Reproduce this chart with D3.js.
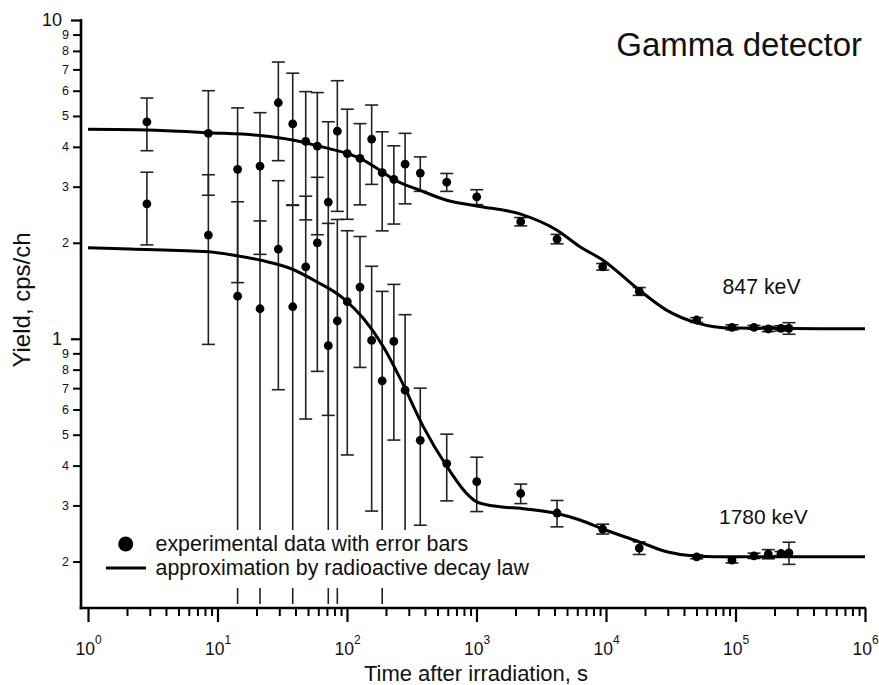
<!DOCTYPE html>
<html>
<head>
<meta charset="utf-8">
<script src="https://cdn.jsdelivr.net/npm/d3@7/dist/d3.min.js"></script>
<style>
  html, body { margin: 0; padding: 0; background: #fff; }
  svg { display: block; font-family: "Liberation Sans", Arial, sans-serif; }
</style>
</head>
<body>
<svg id="chart" width="879" height="685"></svg>
<script>
// ---------------- data ----------------
const times = [2.85, 8.5, 14.3, 21.3, 29.5, 38.1, 48, 59, 71.7, 84.2, 100.5, 126, 155, 187, 230, 281, 368,
  589, 1004, 2195, 4186, 9425, 18060, 50150, 93950, 139000, 179200, 224500, 258700];

const yield847 = [4.79, 4.41, 3.40, 3.48, 5.50, 4.72, 4.16, 4.02, 2.685, 4.48, 3.81, 3.68, 4.23, 3.32, 3.16, 3.53, 3.31,
  3.10, 2.785, 2.33, 2.055, 1.682, 1.408, 1.145, 1.086, 1.086, 1.073, 1.078, 1.078];
const err847 = [0.90, 1.59, 1.90, 1.64, 1.88, 2.09, 1.80, 1.90, 2.11, 1.97, 1.44, 1.05, 1.18, 1.14, 0.87, 0.88, 0.41,
  0.20, 0.15, 0.07, 0.07, 0.04, 0.04, 0.02, 0.02, 0.015, 0.02, 0.02, 0.045];

const yield1780 = [2.65, 2.115, 1.36, 1.242, 1.912, 1.26, 1.68, 2.00, 0.951, 1.137, 1.307, 1.453, 0.988, 0.738, 0.981, 0.690, 0.480,
  0.406, 0.356, 0.327, 0.284, 0.253, 0.2205, 0.207, 0.202, 0.2085, 0.211, 0.212, 0.213];
const err1780 = [0.68, 1.155, 1.33, 1.10, 1.22, 1.36, 1.12, 1.21, 1.35, 1.23, 0.875, 0.64, 0.70, 0.67, 0.50, 0.50, 0.22,
  0.096, 0.069, 0.023, 0.027, 0.009, 0.01, 0.003, 0.004, 0.004, 0.007, 0.003, 0.017];

// approximation curves
const fit847T = [1, 2.85, 8.5, 21.3, 38.1, 59, 100.5, 126, 187, 230, 368, 589, 1004, 2195, 4186, 6290, 9425, 18060, 29300, 50150, 93950, 1e6];
const fit847Y = [4.54, 4.52, 4.43, 4.34, 4.20, 4.03, 3.81, 3.68, 3.34, 3.16, 2.92, 2.72, 2.61, 2.46, 2.19, 1.944, 1.766, 1.421, 1.23, 1.122, 1.080, 1.075];

const fit1780T = [1, 2.11, 8.49, 14.1, 22.1, 36.3, 58.3, 93.6, 133.6, 190.7, 265.9, 388, 581, 840, 1004, 1519, 2195, 4186, 6295, 9425, 18060, 29420, 50150, 93950, 1e6];
const fit1780Y = [1.93, 1.912, 1.875, 1.822, 1.759, 1.664, 1.51, 1.339, 1.159, 0.944, 0.731, 0.530, 0.4016, 0.327, 0.308, 0.297, 0.2937, 0.283, 0.270, 0.253, 0.2307, 0.2147, 0.208, 0.207, 0.207];

const xMajorTicks = [1, 10, 100, 1000, 10000, 100000, 1000000];
const xExponents = ["0", "1", "2", "3", "4", "5", "6"];
const yMajorTicks = [1, 10];
const yMajorLabels = ["1", "10"];
const yMinorDigits = [2, 3, 4, 5, 6, 7, 8, 9];

const titleText = "Gamma detector";
const label847 = "847 keV";
const label1780 = "1780 keV";
const xTitle = "Time after irradiation, s";
const yTitle = "Yield, cps/ch";
const legendItems = ["experimental data with error bars", "approximation by radioactive decay law"];

// ---------------- layout ----------------
const svg = d3.select("#chart");
const plotLeft = 81, plotRight = 865, plotTop = 20, plotBottom = 608;
const x = d3.scaleLog().domain([1, 1e6]).range([88, 865]);
const y = d3.scaleLog().domain([0.143, 10]).range([plotBottom, plotTop]);

svg.append("defs").append("clipPath").attr("id", "plotclip")
  .append("rect").attr("x", plotLeft).attr("y", plotTop - 5)
  .attr("width", plotRight - plotLeft + 10).attr("height", plotBottom - plotTop + 3);

// ---------------- axes ----------------
const xMinor = [];
for (let k = 0; k < 6; k++) for (let m = 2; m <= 9; m++) xMinor.push(m * Math.pow(10, k));

const gx = svg.append("g").attr("transform", `translate(0,${plotBottom})`);
gx.call(d3.axisBottom(x).tickValues(xMinor).tickSize(8).tickFormat(""));
gx.call(g => g.select(".domain").remove());
gx.selectAll(".tick line").attr("stroke", "#000").attr("stroke-width", 2);
const gxM = svg.append("g").attr("transform", `translate(0,${plotBottom})`);
gxM.call(d3.axisBottom(x).tickValues(xMajorTicks).tickSize(14).tickFormat(""));
gxM.call(g => g.select(".domain").remove());
gxM.selectAll(".tick line").attr("stroke", "#000").attr("stroke-width", 2.2);
gxM.selectAll(".tick").each(function(d, i) {
  const t = d3.select(this).append("text")
    .attr("y", 47).attr("x", 0).attr("fill", "#111")
    .attr("text-anchor", "middle").style("font-size", "17.5px");
  t.append("tspan").text("10");
  t.append("tspan").attr("dy", -11).style("font-size", "12px").text(xExponents[i]);
});

const yMinor = [];
[0.1, 1].forEach(b => yMinorDigits.forEach(m => yMinor.push(m * b)));
const gy = svg.append("g").attr("transform", `translate(${plotLeft},0)`);
gy.call(d3.axisLeft(y).tickValues(yMinor).tickSize(8).tickPadding(4)
  .tickFormat((d) => String(Math.round(d >= 1 ? d : d * 10))));
gy.call(g => g.select(".domain").remove());
gy.selectAll(".tick line").attr("stroke", "#000").attr("stroke-width", 2);
gy.selectAll(".tick text").attr("fill", "#111").style("font-size", "12.5px").style("font-family", "Liberation Sans, Arial, sans-serif");
const gyM = svg.append("g").attr("transform", `translate(${plotLeft},0)`);
gyM.call(d3.axisLeft(y).tickValues(yMajorTicks).tickSize(10).tickPadding(9)
  .tickFormat((d, i) => yMajorLabels[i]));
gyM.call(g => g.select(".domain").remove());
gyM.selectAll(".tick line").attr("stroke", "#000").attr("stroke-width", 2.2);
gyM.selectAll(".tick text").attr("fill", "#111").style("font-size", "18px").style("font-family", "Liberation Sans, Arial, sans-serif");

// spines
svg.append("line").attr("x1", plotLeft).attr("x2", plotLeft).attr("y1", plotTop - 1).attr("y2", plotBottom + 1.3)
  .attr("stroke", "#000").attr("stroke-width", 2.6);
svg.append("line").attr("x1", plotLeft - 1.3).attr("x2", plotRight + 1).attr("y1", plotBottom).attr("y2", plotBottom)
  .attr("stroke", "#000").attr("stroke-width", 2.6);

// ---------------- data marks ----------------
const plot = svg.append("g").attr("clip-path", "url(#plotclip)");
const series = [
  { t: times, v: yield847, e: err847, ft: fit847T, fy: fit847Y },
  { t: times, v: yield1780, e: err1780, ft: fit1780T, fy: fit1780Y }
];
const capW = 6.5;
const yMin = y.domain()[0];

series.forEach(s => {
  const pts = s.t.map((t, i) => ({ t, v: s.v[i], lo: s.v[i] - s.e[i], hi: s.v[i] + s.e[i] }));
  const g = plot.append("g");
  pts.forEach(p => {
    const xp = x(p.t);
    const yHi = y(p.hi);
    const loClipped = p.lo <= yMin;
    const yLo = loClipped ? plotBottom + 5 : y(p.lo);
    g.append("line").attr("x1", xp).attr("x2", xp).attr("y1", yHi).attr("y2", loClipped ? plotBottom - 4 : yLo)
      .attr("stroke", "#222").attr("stroke-width", 1.6);
    g.append("line").attr("x1", xp - capW).attr("x2", xp + capW).attr("y1", yHi).attr("y2", yHi)
      .attr("stroke", "#222").attr("stroke-width", 1.6);
    if (!loClipped) {
      g.append("line").attr("x1", xp - capW).attr("x2", xp + capW).attr("y1", yLo).attr("y2", yLo)
        .attr("stroke", "#222").attr("stroke-width", 1.6);
    }
  });
});

series.forEach(s => {
  const line = d3.line().x(d => x(d[0])).y(d => y(d[1])).curve(d3.curveMonotoneX);
  plot.append("path").datum(s.ft.map((t, i) => [t, s.fy[i]]))
    .attr("d", line).attr("fill", "none").attr("stroke", "#000").attr("stroke-width", 3);
});

series.forEach(s => {
  plot.append("g").selectAll("circle").data(s.t.map((t, i) => [t, s.v[i]])).join("circle")
    .attr("cx", d => x(d[0])).attr("cy", d => y(d[1])).attr("r", 4.4).attr("fill", "#000");
});

// ---------------- legend ----------------
const lg = svg.append("g");
lg.append("rect").attr("x", 100).attr("y", 530).attr("width", 440).attr("height", 58).attr("fill", "#fff");
lg.append("circle").attr("cx", 125.7).attr("cy", 544).attr("r", 7.5).attr("fill", "#000");
lg.append("line").attr("x1", 106).attr("x2", 146).attr("y1", 568).attr("y2", 568).attr("stroke", "#000").attr("stroke-width", 3.2);
lg.append("text").attr("x", 155.5).attr("y", 551).attr("fill", "#111").style("font-size", "21.4px").text(legendItems[0]);
lg.append("text").attr("x", 155.5).attr("y", 574.5).attr("fill", "#111").style("font-size", "21.4px").text(legendItems[1]);

// ---------------- texts ----------------
svg.append("text").attr("x", 862).attr("y", 56).attr("text-anchor", "end").attr("fill", "#111")
  .style("font-size", "33px").text(titleText);
svg.append("text").attr("x", 722.5).attr("y", 294).attr("fill", "#111").style("font-size", "21.3px").text(label847);
svg.append("text").attr("x", 719).attr("y", 523.5).attr("fill", "#111").style("font-size", "21px").text(label1780);
svg.append("text").attr("x", 476).attr("y", 681).attr("text-anchor", "middle").attr("fill", "#111")
  .style("font-size", "22px").text(xTitle);
svg.append("text").attr("transform", "translate(30,300) rotate(-90)").attr("text-anchor", "middle").attr("fill", "#111")
  .style("font-size", "24px").text(yTitle);
</script>
</body>
</html>
